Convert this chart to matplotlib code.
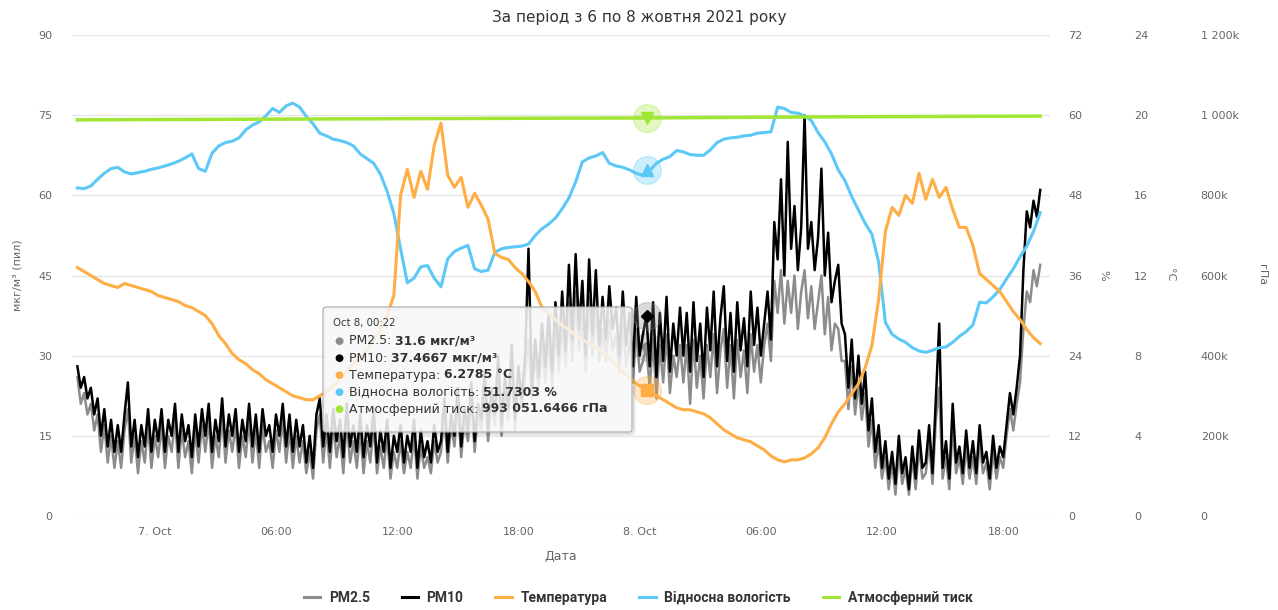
import numpy as np
import pandas as pd
import matplotlib
matplotlib.use('Agg')
import matplotlib.pyplot as plt
from matplotlib.patches import FancyBboxPatch
from matplotlib.lines import Line2D

# ---- data ----
title = 'За період з 6 по 8 жовтня 2021 року'

# dust, every 10 min from 06.10 20:10 to 08.10 19:50 (one row = 2 hours)
pm10 = [
    28, 24, 26, 22, 24, 19, 22, 15, 20, 13, 18, 12,
    17, 12, 19, 25, 13, 18, 11, 17, 13, 20, 12, 18,
    14, 20, 12, 18, 15, 21, 12, 19, 14, 17, 11, 19,
    13, 20, 15, 21, 12, 18, 14, 22, 13, 19, 15, 20,
    12, 18, 14, 21, 13, 19, 12, 20, 15, 17, 12, 19,
    15, 21, 13, 19, 12, 18, 13, 17, 10, 15, 9, 19,
    22, 13, 19, 12, 20, 14, 18, 11, 21, 13, 17, 12,
    19, 11, 17, 13, 20, 10, 16, 12, 18, 9, 15, 12,
    17, 10, 15, 12, 18, 9, 16, 11, 14, 10, 17, 12,
    14, 22, 12, 19, 15, 24, 13, 20, 16, 25, 14, 21,
    18, 27, 16, 24, 19, 30, 17, 26, 20, 32, 18, 28,
    22, 30, 50, 24, 33, 26, 36, 28, 38, 27, 40, 30,
    42, 31, 47, 33, 49, 35, 44, 30, 48, 34, 46, 32,
    41, 33, 43, 35, 39, 30, 42, 32, 38, 28, 41, 30,
    34, 37.5, 28, 40, 26, 38, 29, 41, 27, 36, 30, 39,
    30, 38, 27, 40, 29, 36, 26, 39, 31, 42, 28, 37,
    43, 29, 38, 27, 40, 31, 37, 28, 42, 32, 39, 30,
    36, 42, 33, 55, 48, 63, 45, 70, 50, 58, 46, 54,
    75, 50, 55, 46, 52, 65, 45, 53, 40, 44, 47, 36,
    34, 24, 33, 22, 30, 21, 27, 16, 22, 12, 17, 9,
    14, 7, 12, 6, 15, 8, 11, 5, 13, 7, 16, 9,
    10, 17, 8, 22, 36, 9, 14, 7, 21, 10, 13, 8,
    16, 9, 14, 8, 17, 10, 12, 7, 15, 9, 13, 11,
    17, 23, 19, 24, 30, 46, 57, 54, 59, 56, 61,
]
pm25 = [
    26, 21, 23, 19, 21, 16, 19, 12, 17, 10, 15, 9,
    14, 9, 16, 20, 10, 15, 8, 14, 10, 17, 9, 15,
    11, 17, 9, 15, 12, 18, 9, 16, 11, 14, 8, 16,
    10, 17, 12, 18, 9, 15, 11, 19, 10, 16, 12, 17,
    9, 15, 11, 18, 10, 16, 9, 17, 12, 14, 9, 16,
    12, 18, 10, 16, 9, 15, 10, 14, 8, 12, 7, 16,
    19, 10, 16, 9, 17, 11, 15, 8, 18, 10, 14, 9,
    16, 8, 14, 10, 17, 8, 13, 9, 15, 7, 12, 9,
    14, 8, 12, 9, 15, 7, 13, 9, 11, 8, 14, 10,
    12, 19, 10, 17, 13, 21, 11, 18, 14, 22, 12, 19,
    16, 24, 14, 22, 17, 27, 15, 24, 18, 29, 16, 26,
    20, 27, 33, 22, 30, 24, 32, 25, 34, 24, 35, 27,
    36, 28, 40, 29, 42, 31, 38, 27, 41, 30, 39, 29,
    35, 29, 37, 31, 34, 27, 36, 28, 33, 25, 35, 27,
    29, 31.6, 24, 33, 22, 32, 25, 34, 23, 30, 26, 32,
    25, 32, 21, 33, 24, 30, 22, 32, 26, 34, 23, 31,
    35, 24, 32, 22, 33, 26, 31, 23, 34, 27, 32, 25,
    32, 36, 29, 44, 38, 46, 36, 44, 38, 45, 35, 42,
    46, 37, 43, 35, 40, 45, 34, 41, 31, 36, 35, 29,
    29, 20, 28, 19, 25, 18, 23, 13, 18, 9, 14, 7,
    11, 5, 10, 4, 12, 6, 9, 4, 11, 5, 13, 7,
    8, 14, 6, 18, 24, 7, 11, 5, 17, 8, 11, 6,
    13, 7, 11, 6, 14, 8, 10, 5, 12, 7, 11, 9,
    15, 20, 16, 21, 25, 35, 42, 40, 46, 43, 47,
]

# temperature (°C) and humidity (%), every 20 min, same span
temperature = [
    12.4, 12.2, 12.0, 11.8, 11.6, 11.5,
    11.4, 11.6, 11.5, 11.4, 11.3, 11.2,
    11.0, 10.9, 10.8, 10.7, 10.5, 10.4,
    10.2, 10.0, 9.6, 9.0, 8.6, 8.1,
    7.8, 7.6, 7.3, 7.1, 6.8, 6.6,
    6.4, 6.2, 6.0, 5.9, 5.8, 5.8,
    6.0, 6.2, 6.5, 6.8, 7.2, 7.6,
    7.9, 8.3, 8.8, 9.3, 10.0, 11.0,
    16.0, 17.3, 15.9, 17.2, 16.3, 18.5,
    19.6, 17.0, 16.4, 16.9, 15.4, 16.1,
    15.5, 14.8, 13.1, 12.9, 12.8, 12.4,
    12.1, 11.7, 11.2, 10.4, 10.1, 9.8,
    9.5, 9.3, 9.0, 8.8, 8.6, 8.4,
    8.2, 7.9, 7.5, 7.2, 6.9, 6.6,
    6.4, 6.25, 6.0, 5.8, 5.6, 5.4,
    5.3, 5.3, 5.2, 5.1, 4.9, 4.6,
    4.3, 4.1, 3.9, 3.8, 3.7, 3.5,
    3.3, 3.0, 2.8, 2.7, 2.8, 2.8,
    2.9, 3.1, 3.4, 3.9, 4.6, 5.2,
    5.6, 6.1, 6.6, 7.4, 8.5, 10.8,
    14.2, 15.4, 15.0, 16.0, 15.6, 17.1,
    15.8, 16.8, 15.9, 16.4, 15.3, 14.4,
    14.4, 13.5, 12.1, 11.8, 11.5, 11.2,
    10.7, 10.2, 9.8, 9.3, 8.9, 8.6,
]
humidity = [
    49.1, 49.0, 49.4, 50.4, 51.3, 52.0,
    52.2, 51.5, 51.2, 51.4, 51.6, 51.9,
    52.1, 52.4, 52.7, 53.1, 53.6, 54.2,
    52.0, 51.6, 54.3, 55.4, 55.9, 56.1,
    56.6, 57.8, 58.5, 59.0, 59.9, 61.0,
    60.4, 61.4, 61.8, 61.2, 59.8, 58.7,
    57.3, 56.9, 56.4, 56.2, 55.9, 55.4,
    54.2, 53.5, 52.8, 51.2, 48.6, 45.3,
    40.0, 34.9, 35.6, 37.3, 37.5, 35.6,
    34.3, 38.5, 39.6, 40.1, 40.5, 37.0,
    36.6, 36.8, 39.5, 40.0, 40.2, 40.3,
    40.4, 40.7, 42.0, 43.0, 43.7, 44.6,
    46.0, 47.6, 50.0, 53.0, 53.6, 53.9,
    54.4, 52.8, 52.4, 52.2, 51.8, 51.3,
    51.0, 51.7, 52.8, 53.4, 53.8, 54.7,
    54.5, 54.1, 54.0, 54.0, 54.8, 55.9,
    56.4, 56.6, 56.7, 56.9, 57.0, 57.3,
    57.4, 57.5, 61.2, 61.0, 60.4, 60.3,
    59.9, 59.2, 57.4, 56.0, 54.2, 51.8,
    50.2, 47.8, 45.8, 43.8, 42.2, 38.0,
    29.0, 27.2, 26.5, 26.0, 25.2, 24.7,
    24.5, 24.8, 25.2, 25.3, 26.0, 26.9,
    27.6, 28.6, 32.0, 31.9, 32.8, 33.9,
    35.5, 37.0, 38.8, 40.4, 42.6, 45.4,
]

pressure_times = ['2021-10-06 20:10', '2021-10-07 00:00', '2021-10-07 04:00',
                  '2021-10-07 08:00', '2021-10-07 12:00', '2021-10-07 16:00',
                  '2021-10-07 20:00', '2021-10-08 00:00', '2021-10-08 04:00',
                  '2021-10-08 08:00', '2021-10-08 12:00', '2021-10-08 16:00',
                  '2021-10-08 19:50']
pressure = [988300, 989100, 989800, 990500, 991200, 991800, 992500,
            993000, 994200, 995400, 996300, 997000, 997600]

# hovered point shown in the tooltip
hover_time = '2021-10-08 00:22'
hover_pm25 = 31.6
hover_pm10 = 37.4667
hover_temp = 6.2785
hover_hum = 51.7303
hover_press = 993051.6466

series_names = ['PM2.5', 'PM10', 'Температура', 'Відносна вологість', 'Атмосферний тиск']
tick_times = ['2021-10-07 00:00', '2021-10-07 06:00', '2021-10-07 12:00', '2021-10-07 18:00',
              '2021-10-08 00:00', '2021-10-08 06:00', '2021-10-08 12:00', '2021-10-08 18:00']
tick_labels = ['7. Oct', '06:00', '12:00', '18:00', '8. Oct', '06:00', '12:00', '18:00']
pm_ticks = [0, 15, 30, 45, 60, 75, 90]
hum_ticks = [0, 12, 24, 36, 48, 60, 72]
temp_ticks = [0, 4, 8, 12, 16, 20, 24]
press_ticks = [0, 200000, 400000, 600000, 800000, 1000000, 1200000]
press_labels = ['0', '200k', '400k', '600k', '800k', '1 000k', '1 200k']

C_PM25 = '#8c8c8c'
C_PM10 = '#000000'
C_TEMP = '#ffad45'
C_HUM = '#5cc8f8'
C_PRESS = '#a0e632'
TXT = '#666666'

t_pm = pd.date_range('2021-10-06 20:10', periods=len(pm10), freq='10min')
t_met = pd.date_range('2021-10-06 20:10', periods=len(temperature), freq='20min')
t_press = pd.to_datetime(pressure_times)
t_hover = pd.Timestamp(hover_time)

W, H = 1278, 610
fig = plt.figure(figsize=(W / 100, H / 100), dpi=100)
ax = fig.add_axes([72 / W, 94 / H, 978 / W, 481 / H])
ax_hum = ax.twinx()
ax_temp = ax.twinx()
ax_press = ax.twinx()

ax.plot(t_pm, pm25, color=C_PM25, lw=1.8, zorder=2)
ax.plot(t_pm, pm10, color=C_PM10, lw=1.8, zorder=3)
ax_temp.plot(t_met, temperature, color=C_TEMP, lw=2.2)
ax_hum.plot(t_met, humidity, color=C_HUM, lw=2.2)
ax_press.plot(t_press, pressure, color=C_PRESS, lw=2.5)

# hover markers with halo
def hover(a, y, color, marker, ms, halo, z=5):
    a.plot([t_hover], [y], marker='o', ms=20, color=halo, alpha=0.3, ls='none', zorder=z)
    a.plot([t_hover], [y], marker=marker, ms=ms, color=color, ls='none', zorder=z + 1)

hover(ax, hover_pm25, C_PM25, 'o', 7, C_PM25, z=1)
hover(ax, hover_pm10, C_PM10, 'D', 6, '#888888')
hover(ax_temp, hover_temp, C_TEMP, 's', 8, C_TEMP)
hover(ax_hum, hover_hum, C_HUM, '^', 8, C_HUM)
hover(ax_press, hover_press, C_PRESS, 'v', 8, C_PRESS)

ax.set_xlim(pd.Timestamp('2021-10-06 19:54'), pd.Timestamp('2021-10-08 20:19'))
ax.set_ylim(0, 90)
ax.set_yticks(pm_ticks)
ax.set_xticks(pd.to_datetime(tick_times))
ax.set_xticklabels(tick_labels)
ax.yaxis.grid(True, color='#e6e6e6', lw=1)
ax.set_axisbelow(True)
ax.tick_params(axis='y', length=0, pad=14, labelsize=8, labelcolor=TXT)
ax.tick_params(axis='x', length=0, pad=8, labelsize=8, labelcolor=TXT)

ax_hum.set_ylim(0, 72)
ax_hum.set_yticks(hum_ticks)
ax_hum.tick_params(length=0, pad=13, labelsize=8, labelcolor=TXT)
ax_temp.set_ylim(0, 24)
ax_temp.set_yticks(temp_ticks)
ax_temp.tick_params(length=0, pad=60.5, labelsize=8, labelcolor=TXT)
ax_press.set_ylim(0, 1200000)
ax_press.set_yticks(press_ticks)
ax_press.set_yticklabels(press_labels)
ax_press.tick_params(length=0, pad=108.5, labelsize=8, labelcolor=TXT)
for a in (ax, ax_hum, ax_temp, ax_press):
    for s in a.spines.values():
        s.set_visible(False)

# texts around the plot
def px(x, y):
    return x / W, 1 - y / H

fig.text(*px(639, 17), title, ha='center', va='center', fontsize=11, color='#333333')
fig.text(*px(561, 556), 'Дата', ha='center', va='center', fontsize=9, color=TXT)
fig.text(*px(18, 275), 'мкг/м³ (пил)', rotation=90, ha='center', va='center', fontsize=8, color=TXT)
fig.text(*px(1103, 275), '%', rotation=270, ha='center', va='center', fontsize=8, color=TXT)
fig.text(*px(1170, 275), '°C', rotation=270, ha='center', va='center', fontsize=8, color=TXT)
fig.text(*px(1262, 275), 'гПа', rotation=270, ha='center', va='center', fontsize=8, color=TXT)

# legend
colors = [C_PM25, C_PM10, C_TEMP, C_HUM, C_PRESS]
handles = [Line2D([], [], color=c, lw=2.2) for c in colors]
fig.legend(handles, series_names, loc='center', bbox_to_anchor=px(638, 598), ncol=5,
           frameon=False, handlelength=1.2, handletextpad=0.6, columnspacing=2.3,
           prop=dict(weight='bold', size=10, family=['Roboto', 'DejaVu Sans']),
           labelcolor='#333333')

# tooltip overlay in pixel coordinates
ov = fig.add_axes([0, 0, 1, 1], zorder=10)
ov.set_xlim(0, W)
ov.set_ylim(H, 0)
ov.axis('off')
for k, a in ((3, 0.04), (2, 0.06), (1, 0.08)):
    ov.add_patch(FancyBboxPatch((323 + k, 307 + k), 309, 125, boxstyle='round,pad=0,rounding_size=3',
                                fc='none', ec=(0, 0, 0, a), lw=1.5))
ov.add_patch(FancyBboxPatch((323, 307), 309, 125, boxstyle='round,pad=0,rounding_size=3',
                            fc=(0.969, 0.969, 0.969, 0.87), ec='#a8a8a8', lw=0.8))
ov.text(333, 323, 'Oct 8, 00:22', fontsize=7.3, color='#333333', va='center')

units = ['мкг/м³', 'мкг/м³', '°C', '%', 'гПа']
values = [f'{hover_pm25:g} {units[0]}', f'{hover_pm10:g} {units[1]}',
          f'{hover_temp:g} {units[2]}', f'{hover_hum:g} {units[3]}',
          f'{hover_press:,.4f}'.replace(',', ' ') + ' ' + units[4]]
fig.canvas.draw()
renderer = fig.canvas.get_renderer()
for i, (name, val, c) in enumerate(zip(series_names, values, colors)):
    y = 341 + i * 17
    ov.text(339, y, '●', fontsize=7.5, color=c, ha='center', va='center')
    lab = ov.text(349, y, name + ': ', fontsize=9, color='#333333', va='center')
    x1 = lab.get_window_extent(renderer=renderer).x1
    ov.text(x1, y, val, fontsize=9, fontweight='bold', color='#333333', va='center')

fig.savefig('out.png', dpi=100)
